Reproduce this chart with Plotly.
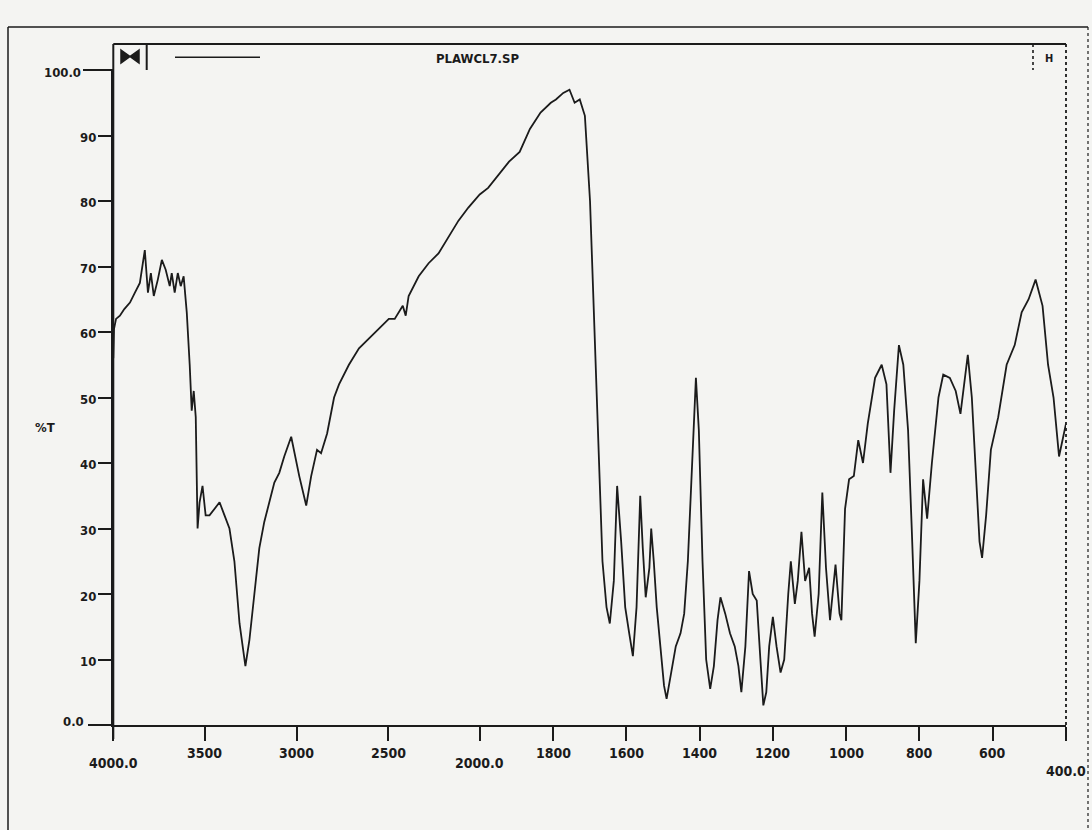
import plotly.graph_objects as go

# IR transmission spectrum, wavenumber (cm-1) vs %T
wavenumber = [
    4000, 3996, 3985, 3964, 3940, 3909, 3882, 3855, 3828, 3811, 3795, 3779, 3757, 3735,
    3714, 3692, 3681, 3665, 3648, 3632, 3616, 3599, 3583, 3572, 3561, 3550, 3540, 3529,
    3513, 3496, 3475, 3447, 3420, 3393, 3366, 3339, 3311, 3279, 3257, 3230, 3203, 3176,
    3148, 3121, 3094, 3067, 3029, 3007, 2985, 2947, 2920, 2888, 2866, 2833, 2795, 2768,
    2714, 2659, 2605, 2551, 2496, 2464, 2442, 2420, 2404, 2388, 2333, 2279, 2225, 2171,
    2116, 2062, 2000,
    1977, 1949, 1920, 1891, 1863, 1834, 1806, 1792, 1772, 1755, 1741, 1727, 1713, 1699,
    1687, 1676, 1665, 1654, 1645, 1634, 1625, 1614, 1603, 1592, 1582, 1572, 1562, 1555,
    1547, 1537, 1532, 1525, 1517, 1507, 1497, 1490, 1477, 1465, 1452, 1442, 1432, 1420,
    1410, 1402, 1392, 1382, 1371, 1361, 1351, 1343, 1330, 1317, 1304, 1294, 1286, 1275,
    1265, 1255, 1244, 1234, 1226, 1218, 1210, 1200, 1190, 1179, 1169, 1158, 1151, 1140,
    1132, 1122, 1112, 1101, 1093, 1086, 1075, 1065, 1055, 1044, 1034, 1029, 1018, 1013,
    1003, 992, 979, 967, 954, 941, 921, 903, 890, 879, 869, 856, 844, 831, 821, 810, 800,
    790, 779, 766, 748, 735, 717, 701, 688, 678, 668, 657, 647, 636, 629, 618, 605, 585,
    562, 540, 521, 502, 483, 464, 449, 434, 419, 404, 400,
]
transmittance = [
    56, 60.5, 62, 62.5, 63.5, 64.5, 66, 67.5, 72.5, 66, 69, 65.5, 68, 71,
    69.5, 67, 69, 66, 69, 67, 68.5, 63, 55, 48, 51, 47, 30, 34,
    36.5, 32, 32, 33, 34, 32, 30, 25, 15.5, 9, 13, 20, 27, 31,
    34, 37, 38.5, 41, 44, 41, 38, 33.5, 38, 42, 41.5, 44.5, 50, 52,
    55, 57.5, 59, 60.5, 62, 62, 63, 64, 62.5, 65.5, 68.5, 70.5, 72, 74.5,
    77, 79, 81,
    82, 84, 86, 87.5, 91, 93.5, 95, 95.5, 96.5, 97, 95, 95.5, 93, 80,
    60, 40, 25, 18, 15.5, 22, 36.5, 28, 18, 14, 10.5, 18, 35, 27,
    19.5, 24, 30, 25, 18, 12, 6, 4, 8, 12, 14, 17, 25, 40,
    53, 45, 25, 10, 5.5, 9, 16, 19.5, 17, 14, 12, 9, 5, 12,
    23.5, 20, 19, 10, 3, 5, 12, 16.5, 12, 8, 10, 20, 25, 18.5,
    22, 29.5, 22, 24, 17, 13.5, 20, 35.5, 24, 16, 22, 24.5, 17, 16,
    33, 37.5, 38, 43.5, 40, 46, 53, 55, 52, 38.5, 48, 58, 55, 45, 30, 12.5, 22,
    37.5, 31.5, 40, 50, 53.5, 53, 51, 47.5, 52, 56.5, 50, 40, 28, 25.5, 32, 42, 47,
    55, 58, 63, 65, 68, 64, 55, 50, 41, 45, 46,
]

x_tick_values = [4000, 3500, 3000, 2500, 2000, 1800, 1600, 1400, 1200, 1000, 800, 600, 400]
x_tick_labels = ["4000.0", "3500", "3000", "2500", "2000.0", "1800", "1600",
                 "1400", "1200", "1000", "800", "600", "400.0"]
y_tick_values = [0, 10, 20, 30, 40, 50, 60, 70, 80, 90, 100]
y_tick_labels = ["0.0", "10", "20", "30", "40", "50", "60", "70", "80", "90", "100.0"]
file_name = "PLAWCL7.SP"
y_title = "%T"

W, H = 1092, 830
INK = "#1b1b1b"
PAPER = "#f4f4f2"
FONT = "Liberation Sans Narrow, DejaVu Sans Condensed, DejaVu Sans"


def scale_x(w):
    # spectrometer scale: 4000-2000 cm-1 drawn at half the scale of 2000-400
    return (4000 - w) * 0.5 if w >= 2000 else 1000 + (2000 - w)


def px(x):
    return x / W


def py(y):
    return 1 - y / H


X0, X1 = 113.3, 1066.0     # plot left/right in pixels
Y0, Y1 = 70.0, 725.0       # plot top/bottom in pixels
HEAD = 44.0                # top of header strip

fig = go.Figure()
fig.add_trace(go.Scatter(
    x=[scale_x(w) for w in wavenumber], y=transmittance, mode="lines",
    line=dict(color=INK, width=1.8), hoverinfo="skip", showlegend=False,
))

fig.update_layout(
    width=W, height=H, autosize=False,
    margin=dict(l=0, r=0, t=0, b=0),
    paper_bgcolor=PAPER, plot_bgcolor=PAPER,
    showlegend=False,
    xaxis=dict(
        domain=[px(X0), px(X1)], range=[0, scale_x(400)],
        tickvals=[scale_x(w) for w in x_tick_values], showticklabels=False,
        ticks="outside", ticklen=14, tickwidth=2, tickcolor=INK,
        showline=True, linecolor=INK, linewidth=2,
        showgrid=False, zeroline=False,
    ),
    yaxis=dict(
        domain=[py(Y1), py(Y0)], range=[0, 100],
        tickvals=y_tick_values, showticklabels=False,
        ticks="outside", ticklen=13, tickwidth=2, tickcolor=INK,
        showline=True, linecolor=INK, linewidth=2,
        showgrid=False, zeroline=False,
    ),
)

annotations = []
# x tick labels; the ".0" end labels sit a little lower
for w, t in zip(x_tick_values, x_tick_labels):
    yc = 753
    if t in ("4000.0", "2000.0"):
        yc = 763
    elif t == "400.0":
        yc = 771
    annotations.append(dict(
        x=scale_x(w), xref="x", y=py(yc), yref="paper", text=t, showarrow=False,
        xanchor="center", yanchor="middle",
        font=dict(family=FONT, size=14, color=INK, weight="bold"),
    ))
# y tick labels
for v, t in zip(y_tick_values, y_tick_labels):
    right, shift = 98, -2
    if t == "100.0":
        right, shift = 83, -3
    elif t == "0.0":
        right, shift = 86, 4
    annotations.append(dict(
        x=px(right), xref="paper", y=v, yref="y", yshift=shift, text=t,
        showarrow=False, xanchor="right", yanchor="middle",
        font=dict(family=FONT, size=13, color=INK, weight="bold"),
    ))
annotations.append(dict(
    x=px(45), xref="paper", y=py(427), yref="paper", text=y_title, showarrow=False,
    xanchor="center", yanchor="middle",
    font=dict(family=FONT, size=13, color=INK, weight="bold"),
))
# header strip texts
annotations.append(dict(
    x=px(477), xref="paper", y=py(58), yref="paper", text=file_name, showarrow=False,
    xanchor="center", yanchor="middle",
    font=dict(family=FONT, size=13, color=INK, weight="bold"),
))
annotations.append(dict(
    x=px(1049), xref="paper", y=py(58), yref="paper", text="H", showarrow=False,
    xanchor="center", yanchor="middle",
    font=dict(family=FONT, size=11, color=INK, weight="bold"),
))
fig.update_layout(annotations=annotations)


def hline(x_a, x_b, y, width=2, dash="solid"):
    return dict(type="line", xref="paper", yref="paper",
                x0=px(x_a), x1=px(x_b), y0=py(y), y1=py(y),
                line=dict(color=INK, width=width, dash=dash))


def vline(x, y_a, y_b, width=2, dash="solid"):
    return dict(type="line", xref="paper", yref="paper",
                x0=px(x), x1=px(x), y0=py(y_a), y1=py(y_b),
                line=dict(color=INK, width=width, dash=dash))


shapes = [
    # outer page frame
    vline(8, 27, 830, width=1.5),
    hline(8, 1088, 27, width=1.5),
    vline(1088, 27, 830, width=1.2, dash="dot"),
    # header strip
    hline(X0, X1, HEAD),
    hline(83, X0, Y0),
    hline(88, X0, Y1),
    vline(X0, HEAD, Y1 + 14),
    vline(146.7, HEAD, Y0),
    vline(1033, HEAD, Y0, width=1.6, dash="dot"),
    vline(X1, HEAD, Y1 + 14, width=1.8, dash="dot"),
    hline(175, 260, 57.3, width=1.5),
    # bow-tie marker in the header box
    dict(type="path", xref="paper", yref="paper",
         path=(f"M {px(121)},{py(50)} L {px(130)},{py(56.5)} L {px(121)},{py(63)} Z "
               f"M {px(139)},{py(50)} L {px(130)},{py(56.5)} L {px(139)},{py(63)} Z"),
         fillcolor=INK, line=dict(color=INK, width=1.5)),
]
fig.update_layout(shapes=shapes)

fig.write_html("out.html")
